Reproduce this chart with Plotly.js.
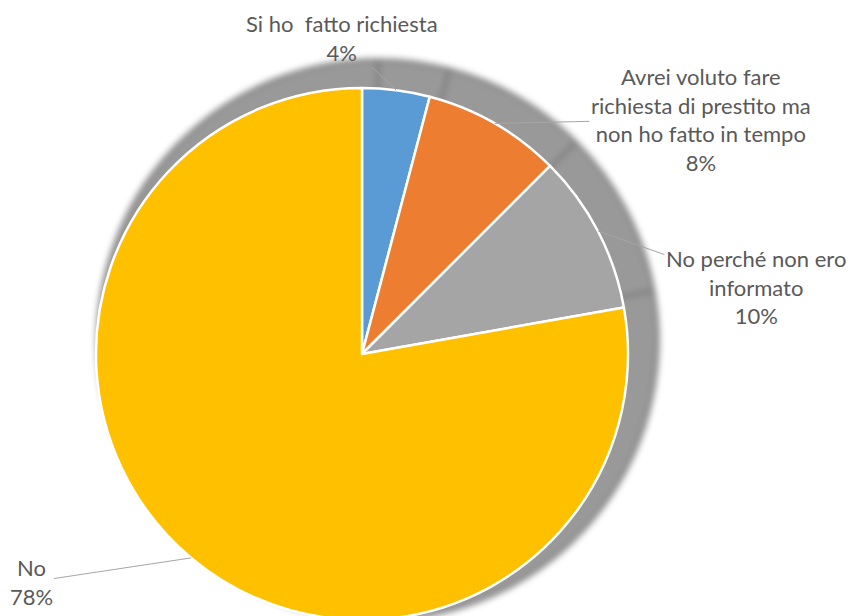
<!DOCTYPE html>
<html><head><meta charset="utf-8">
<script src="https://cdn.plot.ly/plotly-3.0.1.min.js"></script>
<style>html,body{margin:0;padding:0;overflow:hidden;background:#fff}#chart{width:851px;height:624px}</style>
</head><body><div id="chart"></div>
<script>
// ---- data ----
const categories = ["Si ho\u00a0 fatto richiesta", "Avrei voluto fare<br>richiesta di prestito ma<br>non ho fatto in tempo", "No perché non ero<br>informato", "No"];
const values = [4.1, 8.4, 9.7, 77.8];
const colors = ["#5B9BD5", "#ED7D31", "#A5A5A5", "#FFC000"];
// label text centres (px) - layout only
const labelPos = [[342, 38], [701, 119], [756, 287], [31, 582]];

// ---- geometry ----
const W = 851, H = 624;
const main = {cx: 362, cy: 354, r: 266};
const shadow = {cx: 378, cy: 340, r: 280};
function dom(g) {
  return {x: [(g.cx - g.r) / W, (g.cx + g.r) / W], y: [(H - (g.cy + g.r)) / H, (H - (g.cy - g.r)) / H]};
}

const total = values.reduce((a, b) => a + b, 0);
let cum = 0;
const annotations = values.map((v, i) => {
  const mid = (cum + v / 2) / total * 2 * Math.PI;
  cum += v;
  const tx = main.cx + main.r * Math.sin(mid);
  const ty = main.cy - main.r * Math.cos(mid);
  const pct = Math.round(v / total * 100) + "%";
  return {
    x: tx / W, y: 1 - ty / H, xref: "paper", yref: "paper",
    text: categories[i] + "<br>" + pct,
    showarrow: true, arrowhead: 0, arrowwidth: 1, arrowcolor: "#A6A6A6",
    ax: labelPos[i][0] - tx, ay: labelPos[i][1] - ty,
    font: {family: "Lato, 'Noto Sans', sans-serif", size: 22, color: "#595959"},
    align: "center"
  };
});

const traces = [
  {
    type: "pie", values: values, labels: categories, sort: false, direction: "clockwise",
    domain: dom(shadow), textinfo: "none", hoverinfo: "skip",
    marker: {colors: values.map(() => "#999999"), line: {color: "#7a7a7a", width: 3}}
  },
  {
    type: "pie", values: values, labels: categories, sort: false, direction: "clockwise",
    domain: dom(main), textinfo: "none", hoverinfo: "skip",
    marker: {colors: colors, line: {color: "#FFFFFF", width: 2.5}}
  }
];

const layout = {
  width: W, height: H, margin: {l: 0, r: 0, t: 0, b: 0},
  showlegend: false, paper_bgcolor: "#FFFFFF", hovermode: false,
  annotations: annotations
};

Plotly.newPlot("chart", traces, layout, {displayModeBar: false, staticPlot: true}).then(() => {
  const tr = document.querySelectorAll(".pielayer .trace");
  if (tr.length) tr[0].style.filter = "blur(3px)";
});
</script>
</body></html>
